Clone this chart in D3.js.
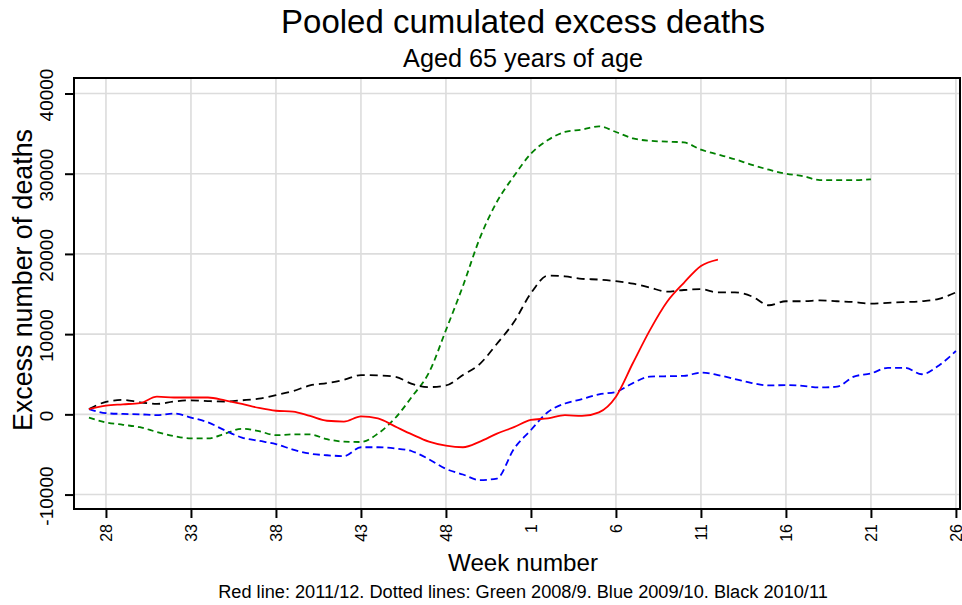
<!DOCTYPE html>
<html><head><meta charset="utf-8">
<script src="https://cdn.jsdelivr.net/npm/d3@7"></script>
<style>body{margin:0;background:#fff}svg{display:block}text{font-family:"Liberation Sans",Arial,sans-serif;fill:#000}</style>
</head><body><svg id="c" width="962" height="605"></svg>
<script>
// Week numbers (week 27 of one year to week 26 of next)
const weeks = [27,28,29,30,31,32,33,34,35,36,37,38,39,40,41,42,43,44,45,46,47,48,49,50,51,52,1,2,3,4,5,6,7,8,9,10,11,12,13,14,15,16,17,18,19,20,21,22,23,24,25,26];
const xTickLabels = ["28","33","38","43","48","1","6","11","16","21","26"];
const yTicks = [-10000,0,10000,20000,30000,40000];

// Red 2011/12 (solid)
const red = [660,1100,1250,1400,2200,2100,2100,2100,1750,1300,800,450,350,-200,-800,-900,-250,-500,-1500,-2500,-3400,-3900,-4100,-3400,-2400,-1600,-700,-500,-100,-200,250,2200,6400,10500,14000,16400,18500,19300];
// Green 2008/9 (dashed)
const green = [-400,-1000,-1300,-1600,-2200,-2700,-3000,-3000,-2400,-1800,-2100,-2600,-2500,-2500,-3100,-3400,-3450,-2400,-500,2200,5200,10500,16000,22000,26500,29700,32500,34200,35200,35500,35900,35200,34400,34100,34000,33900,33000,32400,31800,31100,30500,30000,29700,29200,29200,29200,29300];
// Blue 2009/10 (dashed)
const blue = [660,150,50,0,-100,100,-400,-1000,-2000,-2900,-3300,-3700,-4400,-4900,-5100,-5200,-4100,-4100,-4250,-4600,-5600,-6800,-7500,-8200,-8000,-4300,-1950,300,1350,1900,2500,2800,3900,4700,4750,4800,5200,4900,4400,3900,3600,3650,3550,3350,3450,4700,5100,5800,5800,5000,6100,7900];
// Black 2010/11 (dashed)
const black = [660,1550,1800,1500,1300,1600,1750,1650,1600,1750,1950,2400,2900,3600,3900,4300,4900,4850,4700,3800,3400,3600,4900,6300,8800,11500,15100,17300,17200,16900,16800,16600,16300,15800,15300,15500,15600,15200,15200,14700,13600,14100,14100,14200,14100,14000,13800,13900,14000,14100,14400,15200];

const svg = d3.select("#c");
const L = 74, R = 960, T = 78, B = 509;
const x = d3.scaleLinear().domain([-0.88, 51.24]).range([L, R]);
const y = d3.scaleLinear().domain([-11800, 41930]).range([B, T]);
const xTickIdx = xTickLabels.map(l => weeks.indexOf(+l));

// grid
svg.append("g").selectAll("line").data(xTickIdx).join("line")
  .attr("x1", d => x(d)).attr("x2", d => x(d)).attr("y1", T).attr("y2", B)
  .attr("stroke", "#dcdcdc").attr("stroke-width", 1.6);
svg.append("g").selectAll("line").data(yTicks).join("line")
  .attr("y1", d => y(d)).attr("y2", d => y(d)).attr("x1", L).attr("x2", R)
  .attr("stroke", "#dcdcdc").attr("stroke-width", 1.6);

// lines
const line = d3.line().x((d, i) => x(i)).y(d => y(d)).curve(d3.curveMonotoneX);
const series = [
  {v: green, c: "#008000", dash: "6,4"},
  {v: blue, c: "#0000ff", dash: "7,4"},
  {v: black, c: "#000000", dash: "8,5"},
  {v: red, c: "#ff0000", dash: null}
];
svg.append("g").selectAll("path").data(series).join("path")
  .attr("d", d => line(d.v)).attr("fill", "none")
  .attr("stroke", d => d.c).attr("stroke-width", 1.8)
  .attr("stroke-dasharray", d => d.dash);

// frame
svg.append("rect").attr("x", L).attr("y", T).attr("width", R - L).attr("height", B - T)
  .attr("fill", "none").attr("stroke", "#000").attr("stroke-width", 2);

// x axis
const xAxis = svg.append("g").attr("transform", `translate(0,${B})`)
  .call(d3.axisBottom(x).tickValues(xTickIdx).tickSize(9).tickFormat(d => String(weeks[d])));
xAxis.select(".domain").remove();
xAxis.selectAll(".tick line").attr("stroke", "#000").attr("stroke-width", 2);
xAxis.selectAll(".tick text").attr("y", null).attr("dy", null)
  .attr("text-anchor", "end").style("font-size", "16px")
  .attr("transform", "translate(6,15) rotate(-90)");

// y axis
const yAxis = svg.append("g").attr("transform", `translate(${L},0)`)
  .call(d3.axisLeft(y).tickValues(yTicks).tickSize(9).tickFormat(d => String(d)));
yAxis.select(".domain").remove();
yAxis.selectAll(".tick line").attr("stroke", "#000").attr("stroke-width", 2);
yAxis.selectAll(".tick text").attr("x", null).attr("dy", null)
  .attr("text-anchor", "middle").style("font-size", "19px")
  .attr("transform", "translate(-21,1) rotate(-90)");

// text helper fitted to width
function fitText(sel, w) {
  const n = sel.node(); const fs = parseFloat(sel.style("font-size"));
  const len = n.getComputedTextLength(); sel.style("font-size", (fs * w / len) + "px");
}
fitText(svg.append("text").attr("x", 523).attr("y", 33).attr("text-anchor", "middle")
  .style("font-size", "28px").text("Pooled cumulated excess deaths"), 484);
fitText(svg.append("text").attr("x", 523).attr("y", 67).attr("text-anchor", "middle")
  .style("font-size", "20px").text("Aged 65 years of age"), 240);
fitText(svg.append("text").attr("transform", "translate(32,280) rotate(-90)").attr("text-anchor", "middle")
  .style("font-size", "21px").text("Excess number of deaths"), 302);
fitText(svg.append("text").attr("x", 523).attr("y", 571).attr("text-anchor", "middle")
  .style("font-size", "21px").text("Week number"), 150);
fitText(svg.append("text").attr("x", 523).attr("y", 598).attr("text-anchor", "middle")
  .style("font-size", "15px").text("Red line: 2011/12. Dotted lines: Green 2008/9. Blue 2009/10. Black 2010/11"), 610);
</script></body></html>
